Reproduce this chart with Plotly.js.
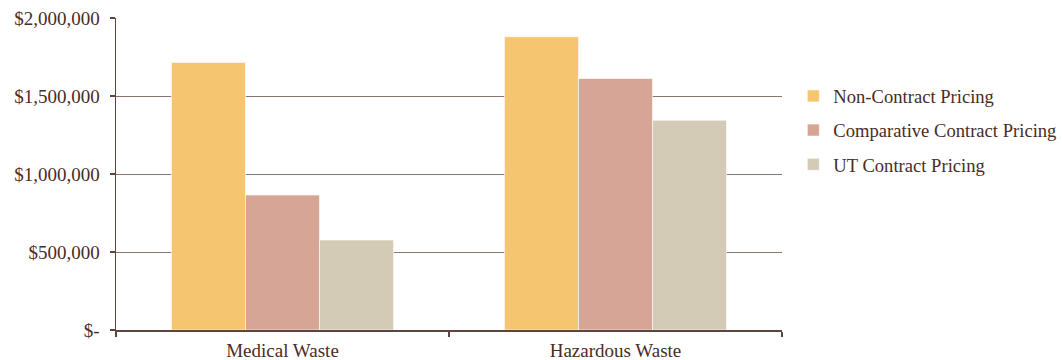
<!DOCTYPE html>
<html>
<head>
<meta charset="utf-8">
<script src="https://cdn.plot.ly/plotly-3.0.1.min.js"></script>
<style>html,body{margin:0;padding:0;background:#fff;}#chart{width:1062px;height:360px;}</style>
</head>
<body>
<div id="chart"></div>
<script>
const categories = ["Medical Waste", "Hazardous Waste"];
const seriesNames = ["Non-Contract Pricing", "Comparative Contract Pricing", "UT Contract Pricing"];
const nonContract = [1715000, 1880000];
const comparative = [865000, 1612000];
const utContract = [577000, 1345000];
const yTickVals = [0, 500000, 1000000, 1500000, 2000000];
const yTickText = ["$-", "$500,000", "$1,000,000", "$1,500,000", "$2,000,000"];
const colors = ["#F6C56F", "#D6A596", "#D3CBB6"];

const seriesValues = [nonContract, comparative, utContract];
const traces = seriesValues.map((vals, i) => ({
  type: "bar",
  name: seriesNames[i],
  legendgroup: "g" + i,
  x: categories,
  y: vals,
  marker: {color: colors[i], line: {color: "rgba(255,255,255,0.6)", width: 1}},
  hoverinfo: "skip"
}));

const txt = "#4a2c27";
const layout = {
  width: 1062, height: 360,
  margin: {l: 116, r: 280, t: 18, b: 30, autoexpand: false},
  paper_bgcolor: "#ffffff", plot_bgcolor: "#ffffff",
  font: {family: "Liberation Serif, Times New Roman, serif", size: 19, color: txt},
  barmode: "group", bargap: 0.333, bargroupgap: 0,
  showlegend: true,
  legend: {x: 1.017, xanchor: "left", y: 0.64, yanchor: "middle", font: {size: 18.6, color: txt}, bgcolor: "rgba(0,0,0,0)", itemwidth: 30, traceorder: "grouped", tracegroupgap: 7},
  xaxis: {
    type: "category", showgrid: false, showline: true, linecolor: "#5e4540", linewidth: 1.5,
    ticks: "outside", tickson: "boundaries", ticklen: 5, tickcolor: "#5e4540", tickwidth: 1.5,
    tickfont: {size: 19, color: txt}, zeroline: false, ticklabelstandoff: 3
  },
  yaxis: {
    range: [0, 2000000], tickvals: yTickVals, ticktext: yTickText,
    showgrid: true, gridcolor: "#8a7570", gridwidth: 1,
    showline: true, linecolor: "#5e4540", linewidth: 1.5,
    ticks: "outside", ticklen: 5, tickcolor: "#5e4540", tickwidth: 1.5,
    tickfont: {size: 19, color: txt}, zeroline: false, ticklabelstandoff: 6
  }
};
Plotly.newPlot("chart", traces, layout, {displayModeBar: false, staticPlot: true});
</script>
</body>
</html>
